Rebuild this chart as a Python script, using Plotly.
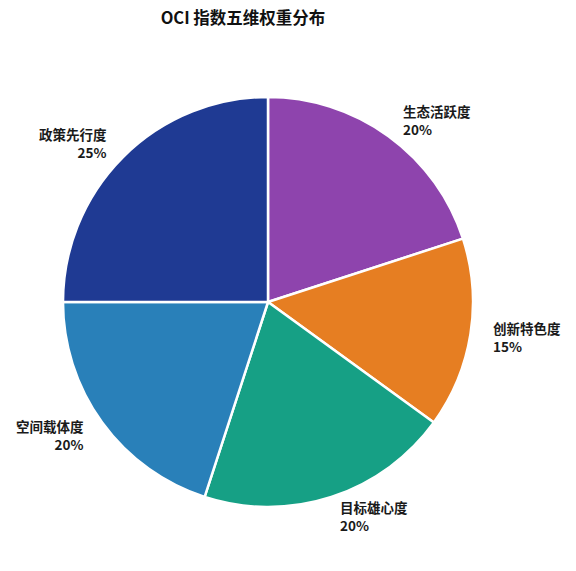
import math
import plotly.graph_objects as go

labels = ["生态活跃度", "创新特色度", "目标雄心度", "空间载体度", "政策先行度"]
values = [20, 15, 20, 20, 25]
colors = ["#8E44AD", "#E67E22", "#16A085", "#2980B9", "#1F3A93"]

# the page body has an 8px margin, so the figure is sized/positioned to fit
OFF = 8
W, H = 576 - 2 * OFF, 571 - 2 * OFF
CX, CY, R = 268 - OFF, 302 - OFF, 205  # pie centre and radius in figure pixels
TITLE_X, TITLE_Y = 243 - OFF, 18 - OFF

fig = go.Figure(go.Pie(
    labels=labels,
    values=values,
    sort=False,
    direction="clockwise",
    rotation=0,
    marker=dict(colors=colors, line=dict(color="white", width=2.5)),
    textinfo="none",
    domain=dict(x=[(CX - R) / W, (CX + R) / W], y=[1 - (CY + R) / H, 1 - (CY - R) / H]),
    showlegend=False,
    hoverinfo="label+percent",
))

# outside labels, placed from the values (matplotlib-style labeldistance)
total = sum(values)
cum = 0
annotations = []
for lab, v in zip(labels, values):
    mid = (cum + v / 2) / total
    cum += v
    ang = math.radians(90 - 360 * mid)
    px = CX + 1.1 * R * math.cos(ang)
    py = CY - 1.1 * R * math.sin(ang)
    right = math.cos(ang) >= 0
    annotations.append(dict(
        x=px / W, y=1 - py / H, xref="paper", yref="paper",
        text=f"<b>{lab}</b><br><b>{round(100 * v / total)}%</b>",
        showarrow=False,
        xanchor="left" if right else "right",
        yanchor="middle",
        align="left" if right else "right",
        font=dict(family="Noto Sans CJK SC", size=13.5, color="#1a1a1a"),
    ))

fig.update_layout(
    width=W,
    height=H,
    margin=dict(l=0, r=0, t=0, b=0),
    paper_bgcolor="white",
    plot_bgcolor="white",
    annotations=annotations,
    title=dict(
        text="<b>OCI 指数五维权重分布</b>",
        x=TITLE_X / W,
        xanchor="center",
        y=1 - TITLE_Y / H,
        yanchor="middle",
        font=dict(family="Noto Sans CJK SC", size=16.5, color="#111111"),
    ),
)

fig.write_html("out.html")
